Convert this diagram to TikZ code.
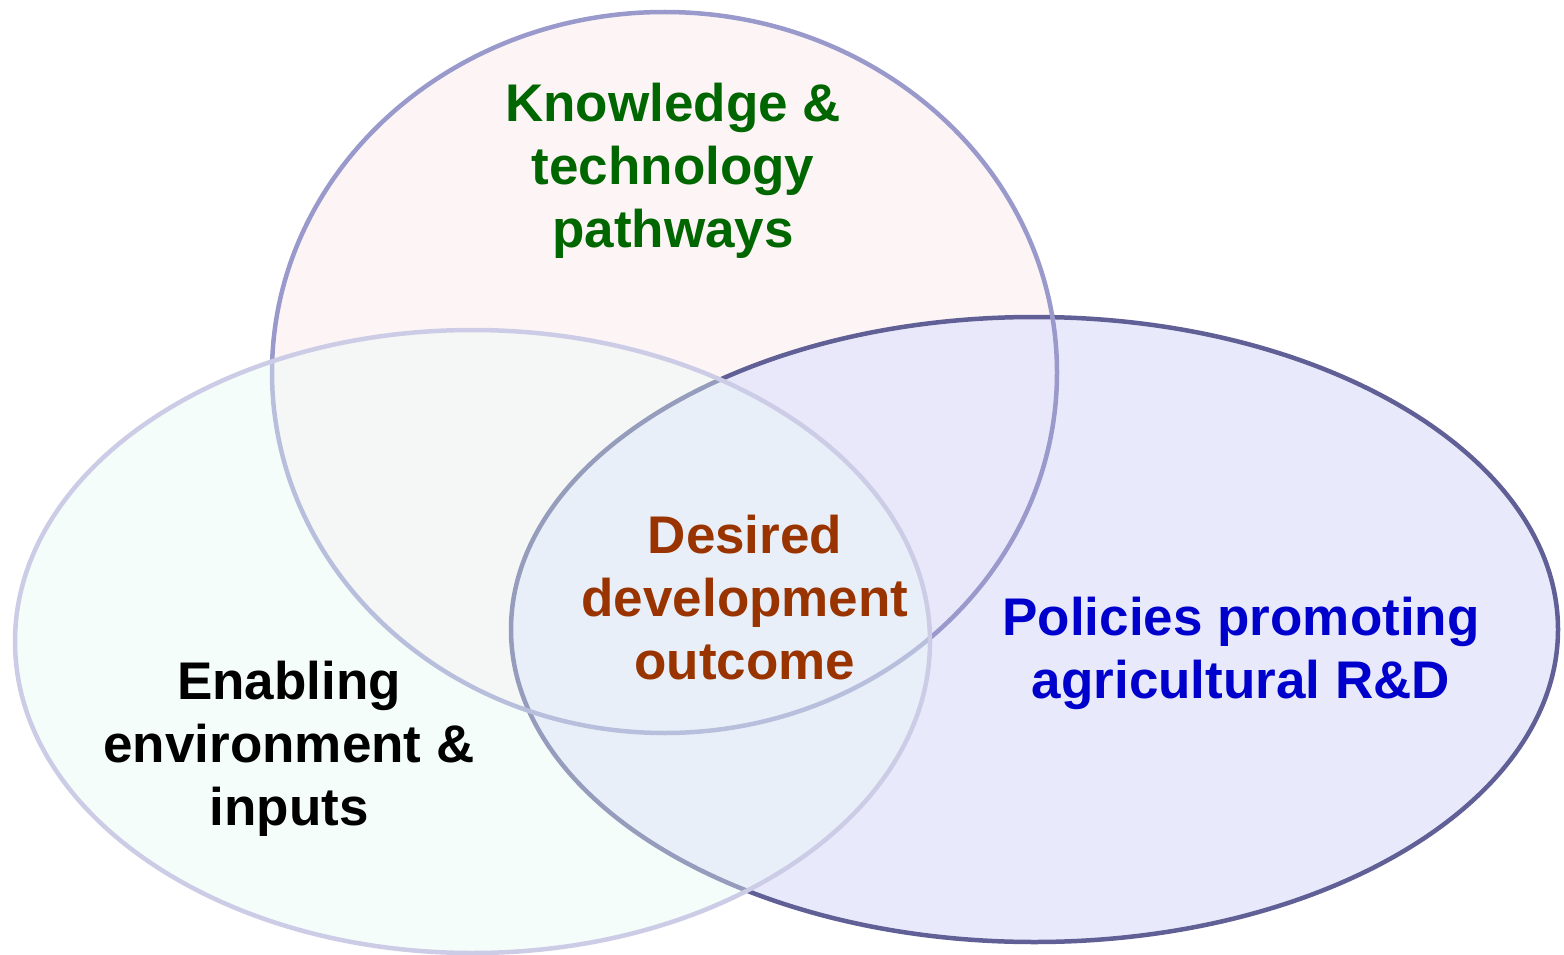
\documentclass[tikz,border=0pt]{standalone}
\usepackage{fontspec}
\setmainfont{Liberation Sans}
\definecolor{topfill}{RGB}{253,245,245}
\definecolor{leftfill}{RGB}{232,250,245}
\definecolor{rightfill}{RGB}{230,230,252}
\definecolor{topline}{RGB}{153,153,204}
\definecolor{leftline}{RGB}{204,204,230}
\definecolor{rightline}{RGB}{96,96,150}
\definecolor{kgreen}{RGB}{0,102,0}
\definecolor{dbrown}{RGB}{153,51,0}
\definecolor{pblue}{RGB}{0,0,204}
\begin{document}
\begin{tikzpicture}[x=1pt,y=-1pt,
  lbl/.style={align=center,inner sep=0pt,font=\fontsize{53}{63}\selectfont\bfseries},
  ring/.style={line width=4.5pt}]
\useasboundingbox (0,0) rectangle (1564,955);
\clip (0,0) rectangle (1564,955);
\fill[white] (0,0) rectangle (1564,955);
\coordinate (cT) at (664.5,372.5);
\coordinate (cL) at (472.5,641.5);
\coordinate (cR) at (1034.5,629.5);
% fills
\fill[topfill] (cT) ellipse [x radius=392.5pt, y radius=360.5pt];
\fill[rightfill, fill opacity=0.85] (cR) ellipse [x radius=523.5pt, y radius=312.5pt];
% borders
\draw[ring, rightline] (cR) ellipse [x radius=523.5pt, y radius=312.5pt];
\draw[ring, topline] (cT) ellipse [x radius=392.5pt, y radius=360.5pt];
\fill[leftfill, fill opacity=0.4] (cL) ellipse [x radius=457.5pt, y radius=311.5pt];
\draw[ring, leftline] (cL) ellipse [x radius=457.5pt, y radius=311.5pt];
% labels
\node[lbl, text=kgreen] (know) at (673,171) {Knowledge \&\\technology\\pathways};
\node[lbl, text=dbrown] (desired) at (745,598) {Desired\\development\\outcome};
\node[lbl, text=pblue] (policies) at (1241,653) {Policies promoting\\agricultural R\&D};
\node[lbl, text=black] (enabling) at (289,749) {Enabling\\environment \&\\inputs};
\end{tikzpicture}
\end{document}
